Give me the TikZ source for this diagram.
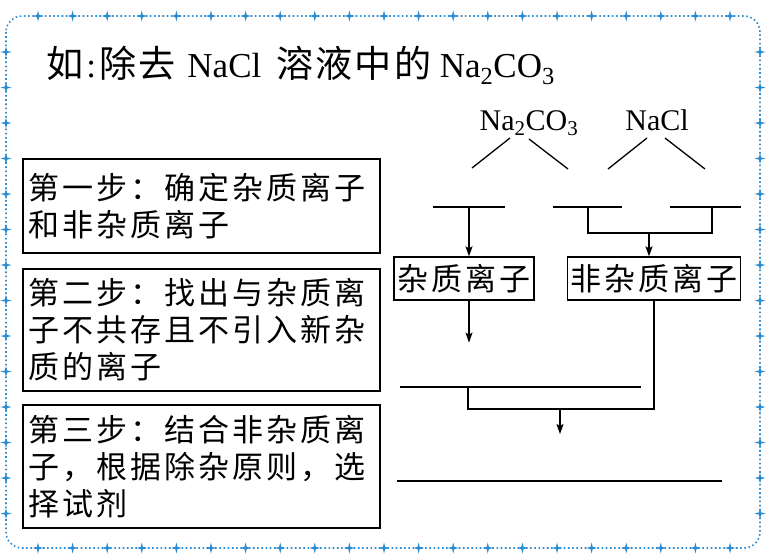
\documentclass[tikz,border=0pt]{standalone}
\usepackage{fontspec}
\setmainfont{Liberation Serif}
\newfontfamily\cjk{Noto Sans CJK SC}[LetterSpace=10]
\newfontfamily\cjktitle{Noto Sans CJK SC}[LetterSpace=6, Scale=1.06]
\usepackage{tikz}
\usetikzlibrary{arrows.meta, positioning}
\definecolor{frameblue}{HTML}{2B8CD2}

\begin{document}
\begin{tikzpicture}[
  x=1pt, y=-1pt,
  %--- shared node styles -----------------------------------------
  stepbox/.style={
    rectangle, draw=black, line width=1.3pt,
    minimum width=357pt, text width=347pt, align=left,
    inner xsep=5pt, inner ysep=4pt,
    font=\cjk\fontsize{31}{37}\selectfont
  },
  ionbox/.style={
    rectangle, draw=black, line width=1.3pt,
    minimum height=43pt, inner sep=1pt,
    font=\cjk\fontsize{31}{36}\selectfont
  },
  formula/.style={font=\fontsize{30}{36}\selectfont, inner sep=0pt, anchor=base},
  blank/.style={line width=1.3pt},
  arr/.style={-{Stealth[length=10pt,width=7pt,inset=2pt]}, line width=1.3pt},
  frame/.style={draw=frameblue, line width=1.6pt,
    dash pattern=on 1.6pt off 2.6pt, rounded corners=16pt},
  bstar/.pic={\fill[frameblue] (-5.5,0) -- (-1.1,-1.1) -- (0,-5.5) -- (1.1,-1.1)
    -- (5.5,0) -- (1.1,1.1) -- (0,5.5) -- (-1.1,1.1) -- cycle;},
]
\useasboundingbox (0,0) rectangle (772,558);

%% --- border with stars ------------------------------------------
\draw[frame] (6,16) rectangle (760,548);
\foreach \i in {0,...,20}{
  \pic at ({38+34.6*\i},16) {bstar};
  \pic at ({38+34.6*\i},548) {bstar};
}
\foreach \i in {0,...,13}{
  \pic at (6,{52+35.5*\i}) {bstar};
  \pic at (760,{52+35.5*\i}) {bstar};
}

%% --- title --------------------------------------------------------
\node[anchor=base west, inner sep=0pt, font=\fontsize{35}{42}\selectfont] (title) at (46,77)
  {{\cjktitle 如}\hspace{3pt}:\hspace{3pt}{\cjktitle 除去}\hspace{12pt}NaCl\hspace{6pt}
   {\cjktitle 溶液中的} Na\textsubscript{2}CO\textsubscript{3}};

%% --- left column: three steps -----------------------------------
\node[stepbox, minimum height=94pt] (step1) at (201.5,206)
  {第一步：确定杂质离子\\和非杂质离子};
\node[stepbox, minimum height=122pt] (step2) at (201.5,330)
  {第二步：找出与杂质离\\子不共存且不引入新杂\\质的离子};
\node[stepbox, minimum height=123pt] (step3) at (201.5,466.5)
  {第三步：结合非杂质离\\子，根据除杂原则，选\\择试剂};

%% --- right column: formulas and their legs ----------------------
\node[formula] (na2co3) at (529,130) {Na\textsubscript{2}CO\textsubscript{3}};
\node[formula] (nacl)   at (657,130) {NaCl};

\draw[blank] (510,138) -- (472,168);
\draw[blank] (529,139) -- (568,169);
\draw[blank] (647,138) -- (608,169);
\draw[blank] (665,138) -- (705,169);

%% blanks to fill in
\coordinate (ba) at (469,207);
\coordinate (bb) at (588,207);
\coordinate (bc) at (712,207);
\draw[blank] (ba) +(-36,0) -- +(36,0);
\draw[blank] (bb) +(-35,0) -- +(34,0);
\draw[blank] (bc) +(-42,0) -- +(29,0);

%% ion boxes
\node[ionbox, minimum width=140pt] (imp)    at (464,278.5) {杂质离子};
\node[ionbox, minimum width=173pt] (nonimp) at (654,278.5) {非杂质离子};

%% --- arrows -----------------------------------------------------
% impurity blank -> impurity ion box
\draw[arr] (ba) -- (ba |- imp.north);
% two blanks joined -> non-impurity ion box
\coordinate (jb) at (649,233);
\draw[blank] (bb) |- (jb) -| (bc);
\draw[arr] (jb) -- (jb |- nonimp.north);
% impurity ion box -> reagent blank
\draw[arr] (ba |- imp.south) -- ++(0,42);
\coordinate (bd) at (520,387);
\draw[blank] (bd) +(-120,0) -- +(121,0);
% reagent blank and non-impurity ion box joined -> answer blank
\coordinate (jd) at (468,409);
\draw[blank] (nonimp.south) |- (jd) -- (jd |- bd);
\coordinate (je) at (560,409);
\draw[arr] (je) -- ++(0,25);
\coordinate (be) at (559.5,481);
\draw[blank] (be) +(-162.5,0) -- +(162.5,0);

\end{tikzpicture}
\end{document}
